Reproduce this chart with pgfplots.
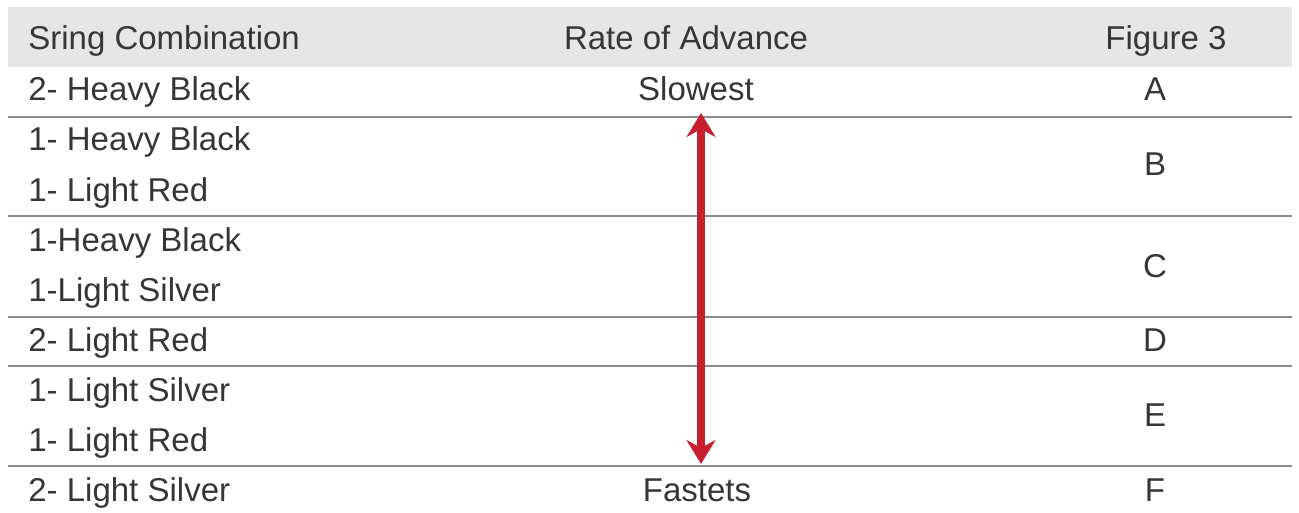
\documentclass[border=0pt]{standalone}
\usepackage{pgfplots}
\pgfplotsset{compat=1.18}
\usepackage{fontspec}
\setmainfont{Liberation Sans}
\usetikzlibrary{arrows.meta}
\definecolor{hdr}{HTML}{E6E6E6}
\definecolor{rule}{HTML}{8A8A8A}
\definecolor{txt}{HTML}{363636}
\definecolor{arr}{HTML}{C71F2D}
\tikzset{T/.style={font=\fontsize{16.5}{20}\selectfont, text=txt, inner sep=0pt}}
\begin{document}
\begin{tikzpicture}
\begin{axis}[
  width=649.5pt, height=256.5pt, scale only axis,
  xmin=0, xmax=1299, ymin=0, ymax=513, y dir=reverse,
  hide axis, clip=false,
]
% full frame (invisible, fixes picture size)
\addplot[draw=none, mark=none] coordinates {(0,0) (1299,513)};
% header band
\addplot[fill=hdr, draw=none] coordinates {(8,7) (1292,7) (1292,67) (8,67)} -- cycle;
% row rules
\addplot[rule, line width=1pt] coordinates {(8,117) (1292,117)};
\addplot[rule, line width=1pt] coordinates {(8,216) (1292,216)};
\addplot[rule, line width=1pt] coordinates {(8,317) (1292,317)};
\addplot[rule, line width=1pt] coordinates {(8,366) (1292,366)};
\addplot[rule, line width=1pt] coordinates {(8,466) (1292,466)};
% arrow
\addplot[arr, line width=4pt, {Stealth[length=12pt, width=14.5pt, inset=4pt]}-{Stealth[length=12pt, width=14.5pt, inset=4pt]}] coordinates {(701,113) (701,464)};
% header text
\node[T, anchor=base west] at (axis cs:28,50) {Sring Combination};
\node[T, anchor=base] at (axis cs:686,50) {Rate of Advance};
\node[T, anchor=base] at (axis cs:1166,50) {Figure 3};
% left column
\node[T, anchor=base west] at (axis cs:28,101) {2- Heavy Black};
\node[T, anchor=base west] at (axis cs:28,151) {1- Heavy Black};
\node[T, anchor=base west] at (axis cs:28,201) {1- Light Red};
\node[T, anchor=base west] at (axis cs:28,251) {1-Heavy Black};
\node[T, anchor=base west] at (axis cs:28,301) {1-Light Silver};
\node[T, anchor=base west] at (axis cs:28,351) {2- Light Red};
\node[T, anchor=base west] at (axis cs:28,401) {1- Light Silver};
\node[T, anchor=base west] at (axis cs:28,451) {1- Light Red};
\node[T, anchor=base west] at (axis cs:28,501) {2- Light Silver};
% middle column
\node[T, anchor=base] at (axis cs:696,101) {Slowest};
\node[T, anchor=base] at (axis cs:697,501) {Fastets};
% right column
\node[T, anchor=base] at (axis cs:1155,101) {A};
\node[T, anchor=base] at (axis cs:1155,176) {B};
\node[T, anchor=base] at (axis cs:1155,277) {C};
\node[T, anchor=base] at (axis cs:1155,351) {D};
\node[T, anchor=base] at (axis cs:1155,426) {E};
\node[T, anchor=base] at (axis cs:1155,501) {F};
\end{axis}
\end{tikzpicture}
\end{document}
